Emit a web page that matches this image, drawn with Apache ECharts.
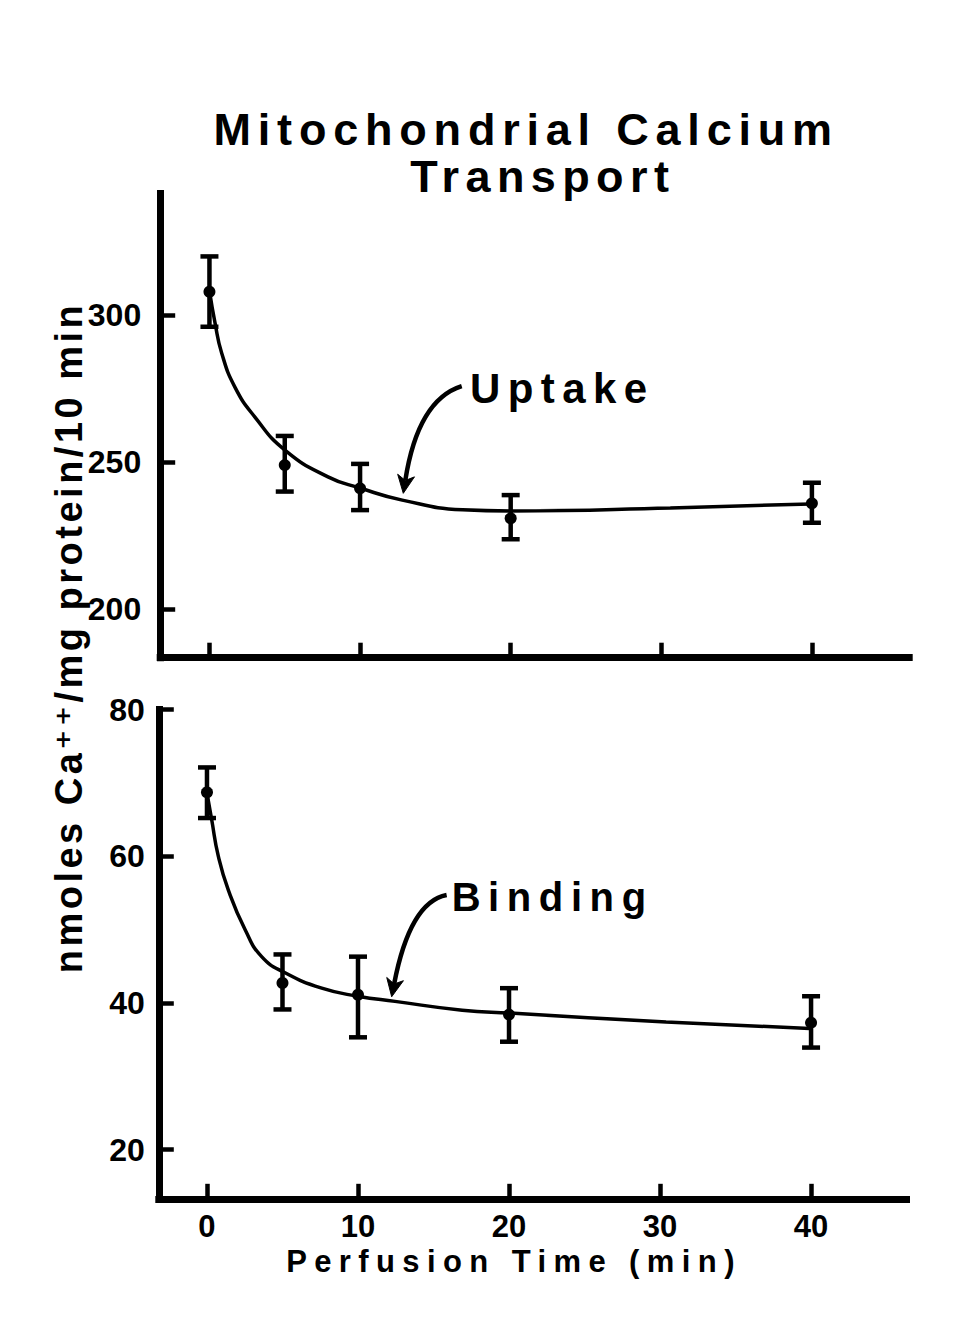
<!DOCTYPE html>
<html>
<head>
<meta charset="utf-8">
<script src="https://cdn.jsdelivr.net/npm/echarts@6.0.0/dist/echarts.min.js"></script>
<style>
html,body{margin:0;padding:0;background:#fff;}
#c{width:970px;height:1341px;}
</style>
</head>
<body>
<div id="c"></div>
<script>
// ---------------- data ----------------
const times = [0, 5, 10, 20, 40];

const uptakeMean = [307.9, 249.0, 241.1, 230.9, 236.0];
const uptakeHigh = [319.9, 258.9, 249.4, 238.8, 243.0];
const uptakeLow  = [296.0, 240.0, 233.7, 223.8, 229.4];

const bindingMean = [68.7, 42.7, 41.1, 38.4, 37.3];
const bindingHigh = [72.1, 46.6, 46.3, 42.0, 40.9];
const bindingLow  = [65.2, 39.1, 35.3, 34.7, 33.9];

// fitted curves
const uptakeFitT = [0, 0.37, 0.81, 1.69, 3.02, 5.01, 7.87, 10.0, 12.8, 16.8, 20.0, 30.6, 39.9];
const uptakeFitV = [308.2, 297.3, 287.1, 275.5, 265.3, 254.1, 245.0, 241.2, 237.1, 233.8, 233.4, 234.4, 235.8];

const bindingFitT = [0, 0.31, 0.75, 1.41, 2.52, 3.62, 5.17, 7.6, 10.0, 12.45, 16.9, 20.07, 30.4, 39.9];
const bindingFitV = [68.6, 65.0, 60.0, 55.4, 50.0, 46.3, 44.1, 42.0, 40.9, 40.2, 39.0, 38.6, 37.4, 36.5];

const xTicks = [0, 10, 20, 30, 40];
const uptakeTicks = [200, 250, 300];
const bindingTicks = [20, 40, 60, 80];

const titleLine1 = 'Mitochondrial Calcium';
const titleLine2 = 'Transport';
const yName = 'nmoles Ca\u207A\u207A/mg protein/10 min';
const xName = 'Perfusion Time (min)';
const uptakeLabel = 'Uptake';
const bindingLabel = 'Binding';

// ---------------- chart ----------------
const FONT = "'Liberation Sans', Arial, 'DejaVu Sans', sans-serif";
const chart = echarts.init(document.getElementById('c'), null, {renderer: 'svg', width: 970, height: 1341});

function errRender(params, api) {
  const x = api.value(0), lo = api.value(1), hi = api.value(2);
  const pLo = api.coord([x, lo]), pHi = api.coord([x, hi]);
  const hw = 9;
  const st = {stroke: '#000', lineWidth: 4.5, fill: null};
  return {type: 'group', children: [
    {type: 'line', shape: {x1: pLo[0], y1: pLo[1], x2: pHi[0], y2: pHi[1]}, style: st},
    {type: 'line', shape: {x1: pLo[0] - hw, y1: pLo[1], x2: pLo[0] + hw, y2: pLo[1]}, style: st},
    {type: 'line', shape: {x1: pHi[0] - hw, y1: pHi[1], x2: pHi[0] + hw, y2: pHi[1]}, style: st}
  ]};
}

const axisLineStyle = {color: '#000', width: 7, cap: 'square'};
const tickStyle = {color: '#000', width: 4.5};
const labelBase = {fontWeight: 'bold', fontFamily: FONT, color: '#000'};

function zip(a, b) { return a.map((v, i) => [v, b[i]]); }
function errData(lo, hi) { return times.map((t, i) => [t, lo[i], hi[i]]); }

chart.setOption({
  animation: false,
  backgroundColor: '#fff',
  grid: [
    {left: 160.2, right: 60.8, top: 193.5, bottom: 683.3, show: false},
    {left: 158.8, right: 63.5, top: 709.5, bottom: 142.2, show: false}
  ],
  xAxis: [
    {gridIndex: 0, type: 'value', min: -3.27, max: 46.46,
     axisLine: {show: true, onZero: false, lineStyle: axisLineStyle},
     axisTick: {show: true, inside: true, length: 15, customValues: xTicks, lineStyle: tickStyle},
     axisLabel: {show: false}, splitLine: {show: false}},
    {gridIndex: 1, type: 'value', min: -3.19, max: 46.32,
     axisLine: {show: true, onZero: false, lineStyle: axisLineStyle},
     axisTick: {show: true, inside: true, length: 15, customValues: xTicks, lineStyle: tickStyle},
     axisLabel: Object.assign({show: true, customValues: xTicks, margin: 12, fontSize: 31}, labelBase),
     splitLine: {show: false}}
  ],
  yAxis: [
    {gridIndex: 0, type: 'value', min: 183.55, max: 341.28,
     axisLine: {show: true, onZero: false, lineStyle: axisLineStyle},
     axisTick: {show: true, inside: true, length: 15, customValues: uptakeTicks, lineStyle: tickStyle},
     axisLabel: Object.assign({show: true, customValues: uptakeTicks, margin: 19, fontSize: 32}, labelBase),
     splitLine: {show: false}},
    {gridIndex: 1, type: 'value', min: 13.28, max: 80,
     axisLine: {show: true, onZero: false, lineStyle: axisLineStyle},
     axisTick: {show: true, inside: true, length: 15, customValues: bindingTicks, lineStyle: tickStyle},
     axisLabel: Object.assign({show: true, customValues: bindingTicks, margin: 14, fontSize: 32}, labelBase),
     splitLine: {show: false}}
  ],
  series: [
    {type: 'line', name: 'Uptake fit', xAxisIndex: 0, yAxisIndex: 0, data: zip(uptakeFitT, uptakeFitV),
     showSymbol: false, smooth: 0.5, lineStyle: {color: '#000', width: 3.5}, silent: true, z: 2},
    {type: 'custom', name: 'Uptake error', xAxisIndex: 0, yAxisIndex: 0, data: errData(uptakeLow, uptakeHigh),
     renderItem: errRender, encode: {x: 0, y: [1, 2]}, silent: true, z: 3},
    {type: 'scatter', name: 'Uptake', xAxisIndex: 0, yAxisIndex: 0, data: zip(times, uptakeMean),
     symbol: 'circle', symbolSize: 12, itemStyle: {color: '#000', opacity: 1}, z: 4},
    {type: 'line', name: 'Binding fit', xAxisIndex: 1, yAxisIndex: 1, data: zip(bindingFitT, bindingFitV),
     showSymbol: false, smooth: 0.5, lineStyle: {color: '#000', width: 3.5}, silent: true, z: 2},
    {type: 'custom', name: 'Binding error', xAxisIndex: 1, yAxisIndex: 1, data: errData(bindingLow, bindingHigh),
     renderItem: errRender, encode: {x: 0, y: [1, 2]}, silent: true, z: 3},
    {type: 'scatter', name: 'Binding', xAxisIndex: 1, yAxisIndex: 1, data: zip(times, bindingMean),
     symbol: 'circle', symbolSize: 12, itemStyle: {color: '#000', opacity: 1}, z: 4}
  ]
});

// ---------------- annotations (anchored in data coordinates) ----------------
const uptakeAnno = {grid: 0, text: [17.3, 274.86], start: [16.75, 275.8], ctrl: [13.84, 271.1], tip: [12.87, 239.4]};
const bindingAnno = {grid: 1, text: [16.2, 54.43], start: [15.87, 54.7], ctrl: [13.44, 53.75], tip: [12.23, 40.83]};

function px(grid, p) { return chart.convertToPixel({gridIndex: grid}, p); }

function arrowEls(a) {
  const P0 = px(a.grid, a.start), C = px(a.grid, a.ctrl), T = px(a.grid, a.tip);
  const dx = T[0] - C[0], dy = T[1] - C[1], L = Math.hypot(dx, dy);
  const ux = dx / L, uy = dy / L, nx = -uy, ny = ux;
  const len = 18, hw = 8.5, notch = 5;
  const B = [T[0] - ux * len, T[1] - uy * len];
  const N = [T[0] - ux * (len - notch), T[1] - uy * (len - notch)];
  return [
    {type: 'bezierCurve', silent: true,
     shape: {x1: P0[0], y1: P0[1], cpx1: C[0], cpy1: C[1], x2: N[0], y2: N[1]},
     style: {stroke: '#000', lineWidth: 4.5, fill: null}},
    {type: 'polygon', silent: true,
     shape: {points: [T, [B[0] + nx * hw, B[1] + ny * hw], N, [B[0] - nx * hw, B[1] - ny * hw]]},
     style: {fill: '#000', stroke: '#000', lineWidth: 1}}
  ];
}

function textEl(x, y, text, size, align, rotation) {
  return {type: 'text', x: x, y: y, rotation: rotation || 0, silent: true,
    style: {text: text, fontSize: size, fontWeight: 'bold', fontFamily: FONT, fill: '#000',
            align: align, verticalAlign: 'middle'}};
}

const tU = px(0, uptakeAnno.text), tB = px(1, bindingAnno.text);
const graphics = [].concat(
  arrowEls(uptakeAnno), arrowEls(bindingAnno),
  [
    textEl(tU[0], tU[1], uptakeLabel, 42, 'left'),
    textEl(tB[0], tB[1], bindingLabel, 40, 'left'),
    textEl(526.2, 129, titleLine1, 45, 'center'),
    textEl(542.7, 176, titleLine2, 45, 'center'),
    textEl(514, 1261, xName, 31, 'center'),
    textEl(68.7, 637.5, yName, 38, 'center', Math.PI / 2)
  ]
);
chart.setOption({graphic: graphics});

// letter spacing like the original typesetting
const spacing = {};
spacing[titleLine1] = 6.8; spacing[titleLine2] = 6.4;
spacing[uptakeLabel] = 7.4; spacing[bindingLabel] = 7.6;
spacing[yName] = 3.5; spacing[xName] = 7.4;
function applySpacing() {
  document.querySelectorAll('#c svg text').forEach(function (t) {
    const s = spacing[t.textContent];
    if (s != null) t.setAttribute('letter-spacing', s);
  });
}
applySpacing();
chart.on('finished', applySpacing);
</script>
</body>
</html>
